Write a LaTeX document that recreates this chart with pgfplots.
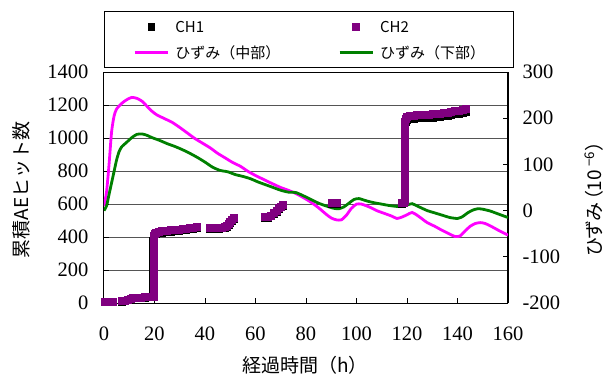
\documentclass[border=0pt]{standalone}
\usepackage{pgfplots}
\pgfplotsset{compat=1.18}
\usepackage{fontspec}
\setmainfont{Liberation Serif}
\newfontfamily\tnr{Liberation Serif}
\newfontfamily\jp{Noto Sans CJK JP}
\newfontfamily\jpp[RawFeature=+palt]{Noto Sans CJK JP}
\definecolor{mag}{RGB}{255,0,255}
\definecolor{grn}{RGB}{0,128,0}
\definecolor{pur}{RGB}{128,0,128}
\definecolor{grd}{RGB}{85,85,85}
\pgfplotsset{
  markleg/.style={legend image code/.code={\draw[##1] plot coordinates {(16.5pt,0pt)};}},
  lineleg/.style={legend image code/.code={\draw[##1] (0pt,0pt) -- (33pt,0pt);}},
  common/.style={
    at={(0pt,0pt)}, anchor=south west,
    scale only axis, width=404pt, height=231pt,
    xmin=0, xmax=160,
    tick align=inside, major tick length=5pt,
    tick style={black, line width=0.8pt},
    /pgf/number format/assume math mode=true,
    /pgf/number format/1000 sep={},
    scaled ticks=false,
    tick label style={font=\tnr\fontsize{20.5}{24}\selectfont},
  },
}
\begin{document}
\begin{tikzpicture}
\path[use as bounding box] (-104pt,-78pt) rectangle (502pt,303pt);
% frame, grid, left axis, legend
\begin{axis}[common,
  ymin=0, ymax=1400,
  xtick={0,20,...,160}, ytick={0,200,...,1400},
  xtick pos=bottom, ytick pos=left,
  ymajorgrids, grid style={grd, line width=1pt},
  axis line style={black, line width=1pt},
  xticklabel shift=20pt, yticklabel shift=12pt,
  every axis x label/.style={at={(axis description cs:0.4975,-0.268)}, anchor=center, font=\jp\fontsize{19}{22}\selectfont},
  every axis y label/.style={at={(axis description cs:-0.2054,0.489)}, anchor=center, rotate=90, font=\jp\fontsize{19}{22}\selectfont},
  xlabel={経過時間（h）},
  ylabel={累積AEヒット数},
  legend columns=2,
  legend cell align=left,
  legend style={at={(axis description cs:0,1)}, anchor=south west, yshift=4pt,
    draw=black, line width=1pt,
    font=\jp\fontsize{15}{18}\selectfont,
    inner xsep=29pt, inner ysep=8pt,
    row sep=11pt,
    /tikz/every odd column/.append style={column sep=6pt},
    /tikz/every even column/.append style={column sep=0pt},
    nodes={inner sep=0pt}},
]
\addlegendimage{black, only marks, mark=square*, mark size=3.3pt, markleg}
\addlegendentry{\makebox[163pt][l]{CH1\vphantom{ひ（）}}}
\addlegendimage{pur, only marks, mark=square*, mark size=3.3pt, markleg}
\addlegendentry{\makebox[104pt][l]{CH2\vphantom{ひ（）}}}
\addlegendimage{mag, line width=2.8pt, lineleg}
\addlegendentry{\makebox[163pt][l]{ひずみ（中部）}}
\addlegendimage{grn, line width=2.8pt, lineleg}
\addlegendentry{\makebox[104pt][l]{ひずみ（下部）}}
\end{axis}
% strain axis (right)
\begin{axis}[common,
  ymin=-200, ymax=300,
  ytick={-200,-100,...,300},
  axis x line=none, axis y line*=right,
  axis line style={black, line width=1pt},
  yticklabel shift=11pt,
  every axis y label/.style={at={(axis description cs:1.2129,0.2)}, anchor=west, rotate=90, inner sep=0pt, font=\jpp\fontsize{19}{22}\selectfont},
  ylabel={ひずみ\kern2pt（10\,\textsuperscript{−6}\kern1pt）},
]
\addplot[mag, line width=2.8pt, smooth, tension=0.4] coordinates {
(0,10) (1,40) (2,100) (3,170) (4,205) (5,220) (7,232) (9,240) (11,245) (13,243)
(15,237) (17,226) (19,215) (21,207) (24,199) (27,191) (30,180) (33,168) (36,156)
(39,146) (42,136) (45,124) (48,114) (51,104) (54,96) (57,85) (60,76) (63,68) (66,60)
(70,50) (73,44) (76,37) (79,28) (82,18) (85,6) (88,-8) (90,-16) (92,-20) (94,-20)
(96,-10) (98,5) (100,14) (102,14) (105,8) (108,0) (111,-6) (114,-12) (116,-17)
(118,-14) (120,-9) (122,-4) (124,-10) (126,-18) (128,-26) (131,-34) (134,-43)
(137,-51) (139,-56) (141,-55) (143,-44) (145,-34) (147,-28) (149,-26) (151,-28)
(154,-36) (157,-45) (160,-53)};
\addplot[grn, line width=2.8pt, smooth, tension=0.4] coordinates {
(0,0) (1,10) (2,35) (3,60) (4,85) (5,110) (6,128) (7,138) (9,148) (11,158) (13,165)
(15,166) (17,163) (19,158) (22,152) (25,145) (28,139) (31,132) (34,124) (37,115)
(40,105) (43,94) (46,87) (49,84) (52,78) (55,74) (58,69) (61,62) (64,56) (67,50)
(70,44) (73,40) (76,39) (79,32) (82,24) (85,16) (88,10) (91,5) (93,4) (95,8) (97,16)
(99,24) (101,26) (104,21) (107,17) (110,14) (113,11) (116,9) (118,9) (120,12)
(122,15) (124,10) (126,5) (128,0) (131,-5) (134,-10) (137,-15) (140,-17) (142,-13)
(144,-5) (146,1) (148,4) (150,3) (153,-1) (156,-7) (160,-15)};
\end{axis}
% AE data (left scale)
\begin{axis}[common, ymin=0, ymax=1400, hide axis, clip=false]
\addplot[black, only marks, mark=square*, mark size=3.5pt] coordinates {
(0.4,6) (3.6,6) (7,10) (8.3,14) (9.5,20) (10.5,26) (11.5,30) (13,32) (14.5,33) (16,34)
(17.5,36) (19,36) (19.3,60) (19.3,100) (19.3,140) (19.3,180) (19.3,220) (19.3,260)
(19.3,300) (19.3,340) (19.3,380) (19.5,400) (19.8,410) (20.5,418) (21.5,424) (23,428)
(25,432) (26.5,435) (28,438) (29.5,441) (31,443) (32.5,446) (34,449) (35.3,452) (36.6,455)
(41.8,449) (43,450) (44.2,451) (45.4,452) (46.6,454) (47.8,457) (48.5,462) (49.2,474)
(49.9,488) (50.6,501) (51.3,512)
(63.8,517) (65,520) (66.2,527) (67.2,540) (68.2,555) (69.2,570) (70,581) (70.7,590)
(90.2,602) (91,602) (92,602)
(117.9,603) (118.6,605) (119.1,640) (119.1,680) (119.1,720) (119.1,760) (119.1,800)
(119.1,840) (119.1,880) (119.1,920) (119.1,960) (119.1,1000) (119.1,1040) (119.1,1080)
(119.4,1100) (120,1112) (121,1117) (122.5,1119) (124,1121) (125.5,1122) (127,1123)
(128.5,1124) (130,1126) (131.5,1128) (133,1130) (134.5,1133) (136,1137) (137.5,1141)
(139,1145) (140.5,1149) (142,1153) (143.2,1157)};
\addplot[pur, only marks, mark=square*, mark size=3.5pt] coordinates {
(0.4,8) (3.6,8) (7,12) (8.3,16) (9.5,22) (10.5,28) (11.5,32) (13,34) (14.5,35) (16,36)
(17.5,38) (19,38) (19.5,40) (19.6,70) (19.6,110) (19.6,150) (19.6,190) (19.6,230)
(19.6,270) (19.6,310) (19.6,350) (19.6,390) (19.8,410) (20,420) (20.5,428) (21.5,433)
(23,436) (25,440) (26.5,442) (28,445) (29.5,447) (31,449) (32.5,451) (34,454) (35.3,457)
(36.6,460)
(41.8,454) (43,455) (44.2,456) (45.4,457) (46.6,459) (47.8,462) (48.5,468) (49.2,480)
(49.9,494) (50.6,507) (51.3,518)
(63.8,522) (65,525) (66.2,532) (67.2,545) (68.2,560) (69.2,575) (70,586) (70.7,595)
(90.2,606) (91,606) (92,606)
(117.9,606) (118.6,608) (119.2,620) (119.2,660) (119.2,700) (119.2,740) (119.2,780)
(119.2,820) (119.2,860) (119.2,900) (119.2,940) (119.2,980) (119.2,1020) (119.2,1060)
(119.2,1100) (119.4,1120) (120,1132) (121,1136) (122.5,1138) (124,1140) (125.5,1141)
(127,1142) (128.5,1143) (130,1145) (131.5,1147) (133,1149) (134.5,1152) (136,1156)
(137.5,1160) (139,1164) (140.5,1168) (142,1172) (143.2,1176)};
\end{axis}
\end{tikzpicture}
\end{document}
